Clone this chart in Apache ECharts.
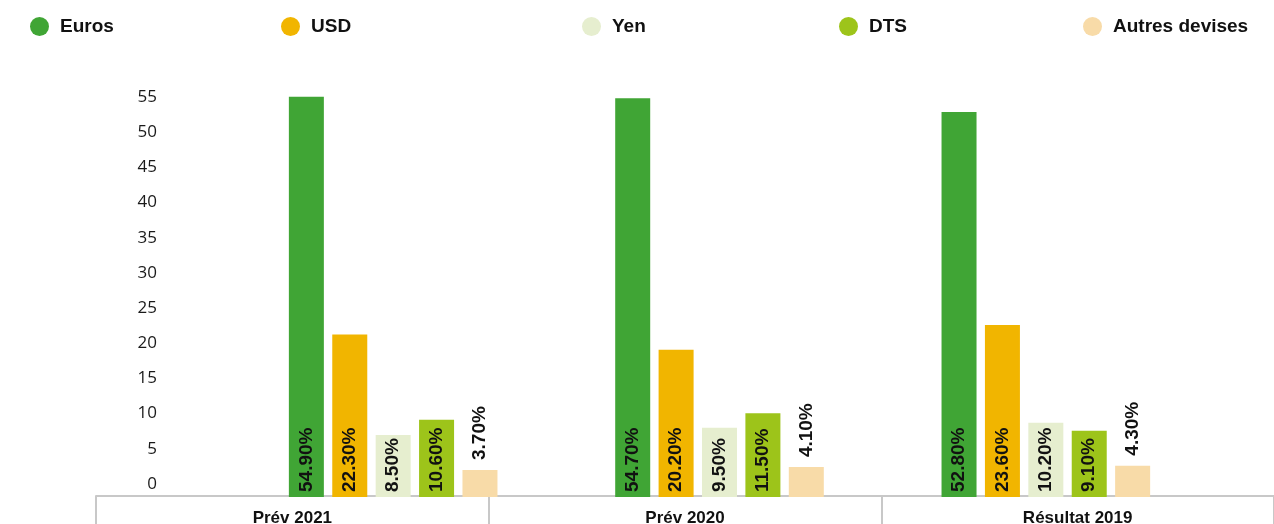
<!DOCTYPE html>
<html>
<head>
<meta charset="utf-8">
<script src="https://cdn.jsdelivr.net/npm/echarts@6/dist/echarts.min.js"></script>
<style>html,body{margin:0;padding:0;background:#fff}#c{width:1274px;height:524px}</style>
</head>
<body>
<div id="c"></div>
<script>
const categories = ['Prév 2021', 'Prév 2020', 'Résultat 2019'];
const seriesNames = ['Euros', 'USD', 'Yen', 'DTS', 'Autres devises'];
const euros = [54.9, 54.7, 52.8];
const usd = [22.3, 20.2, 23.6];
const yen = [8.5, 9.5, 10.2];
const dts = [10.6, 11.5, 9.1];
const autres = [3.7, 4.1, 4.3];
const yTicks = [0, 5, 10, 15, 20, 25, 30, 35, 40, 45, 50, 55];

const values = [euros, usd, yen, dts, autres];
const colors = ['#40a535', '#f1b500', '#e6eecf', '#9dc41a', '#f8dba8'];
const narrow = "'Liberation Sans', Arial, sans-serif";
const legendLeft = [25, 276, 577, 834, 1078];

const chart = echarts.init(document.getElementById('c'));
chart.setOption({
  animation: false,
  legend: seriesNames.map((n, i) => ({
    data: [n], left: legendLeft[i], top: 12,
    icon: 'circle', itemWidth: 19, itemHeight: 19,
    textStyle: { fontFamily: narrow, fontWeight: 'bold', fontSize: 19, color: '#111', padding: [0, 0, 0, 6] }
  })),
  grid: [
    { left: 96, right: 0, top: 96, bottom: 28, outerBoundsMode: 'none', containLabel: false },
    { left: 230, right: 65, top: 96, bottom: 27, outerBoundsMode: 'none', containLabel: false },
    { left: 165, right: 65, top: 97, bottom: 40, outerBoundsMode: 'none', containLabel: false }
  ],
  xAxis: [
    { type: 'category', gridIndex: 0, data: categories,
      axisLine: { show: true, onZero: false, lineStyle: { color: '#c8c8c8', width: 2 } },
      axisTick: { show: true, length: 30, lineStyle: { color: '#c8c8c8', width: 2 } },
      axisLabel: { margin: 14, fontFamily: narrow, fontWeight: 'bold', fontSize: 17, color: '#111' } },
    { type: 'category', gridIndex: 1, data: categories, show: false },
    { type: 'category', gridIndex: 2, data: categories, show: false }
  ],
  yAxis: [
    { type: 'value', gridIndex: 0, show: false, min: 0, max: 55 },
    { type: 'value', gridIndex: 1, show: false, min: 0, max: 55, interval: 5 },
    { type: 'value', gridIndex: 2, min: 0, max: 55, interval: 5,
      axisLine: { show: false }, axisTick: { show: false }, splitLine: { show: false },
      axisLabel: { fontFamily: "'Open Sans', sans-serif", fontSize: 17, color: '#1a1a1a',
        formatter: v => yTicks.includes(v) ? String(v) : '' } }
  ],
  series: seriesNames.map((n, i) => ({
    name: n, type: 'bar', xAxisIndex: 1, yAxisIndex: 1,
    data: values[i], barWidth: 35, barGap: '24%',
    itemStyle: { color: colors[i] },
    label: {
      show: true, rotate: 90,
      position: i === 4 ? 'top' : 'insideBottom',
      distance: i === 4 ? 10 : 5,
      align: 'left', verticalAlign: 'middle',
      formatter: p => p.value.toFixed(2) + '%',
      fontFamily: narrow, fontWeight: 'bold', fontSize: 19, color: '#111'
    }
  }))
});
</script>
</body>
</html>
